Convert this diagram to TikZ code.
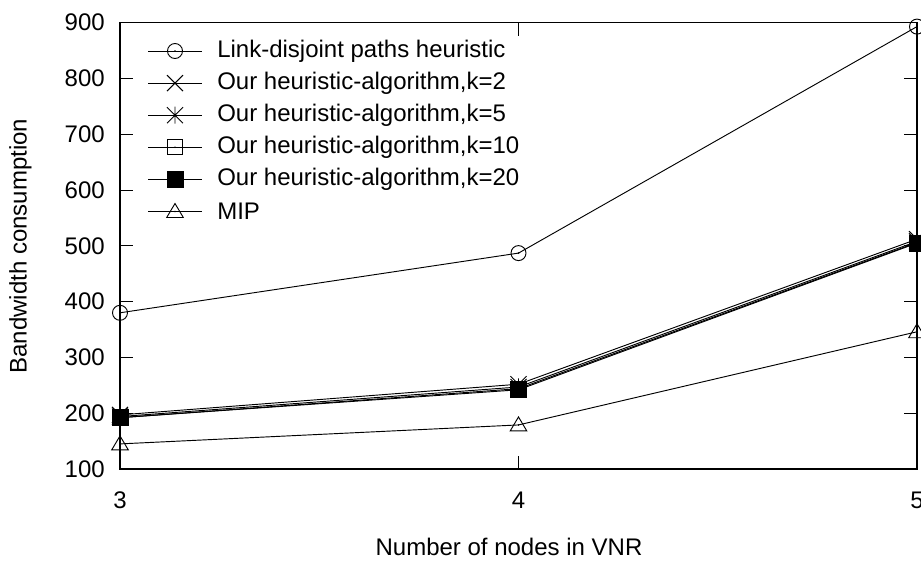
\documentclass[tikz,border=0pt]{standalone}
\usepackage{fontspec}
\setmainfont{Liberation Sans}
\begin{document}
\begin{tikzpicture}[x=0.75pt,y=-0.75pt,
  axis/.style={line width=1pt,black},
  tickmark/.style={line width=0.8pt,black},
  series/.style={line width=0.7pt,black},
  mk/.style={line width=0.7pt,black},
  lbl/.style={font=\fontsize{18}{21}\selectfont,inner sep=0pt},
  mkcirc/.pic={\draw[mk] (0,0) circle (7.5); \fill (0,0) circle (0.9);},
  mkcross/.pic={\draw[mk] (-8,-8)--(8,8) (-8,8)--(8,-8);},
  mkstar/.pic={\draw[mk] (-8,-8)--(8,8) (-8,8)--(8,-8) (0,-8.5)--(0,8.5);},
  mkbox/.pic={\draw[mk] (-7.5,-7.5) rectangle (7.5,7.5); \fill (0,0) circle (0.9);},
  mkfill/.pic={\fill (-8.5,-8.5) rectangle (8.5,8.5);},
  mktri/.pic={\draw[mk] (0,-8)--(8.3,6)--(-8.3,6)--cycle; \fill (0,0) circle (0.9);}
]
\useasboundingbox (0,0) rectangle (921,561);
\fill[white] (0,0) rectangle (921,561);

% plot frame corners
\coordinate (BL) at (120,469);
\coordinate (TR) at (917,22.7);

% data points: x = nodes in VNR (3..5), y = bandwidth (100..900)
\begin{scope}[shift={(120,469)},x=298.875pt,y=0.41841pt]
  \coordinate (a3) at (0,280); \coordinate (a4) at (1,387); \coordinate (a5) at (2,793);
  \coordinate (b3) at (0,97);  \coordinate (b4) at (1,152); \coordinate (b5) at (2,412);
  \coordinate (c3) at (0,94);  \coordinate (c4) at (1,147); \coordinate (c5) at (2,408);
  \coordinate (d3) at (0,92);  \coordinate (d4) at (1,144); \coordinate (d5) at (2,406);
  \coordinate (e3) at (0,92);  \coordinate (e4) at (1,142); \coordinate (e5) at (2,405);
  \coordinate (f3) at (0,45);  \coordinate (f4) at (1,79);  \coordinate (f5) at (2,246);
\end{scope}

% ticks
\foreach \v [count=\i] in {200,300,...,800}{
  \pgfmathsetmacro{\yy}{469-(\v-100)*0.55788}
  \draw[tickmark] (120,\yy) -- (133,\yy);
  \draw[tickmark] (917,\yy) -- (904,\yy);
}
\draw[tickmark] (518.5,469) -- (518.5,456);
\draw[tickmark] (518.5,22.7) -- (518.5,35.5);

% tick labels
\foreach \v in {100,200,...,900}{
  \pgfmathsetmacro{\yy}{469-(\v-100)*0.55788}
  \node[lbl,anchor=east] (yl\v) at (105,\yy) {\v};
}
\node[lbl] (x3) at (120,500) {3};
\node[lbl] (x4) at (518.5,500) {4};
\node[lbl] (x5) at (917,500) {5};

% axis titles
\node[lbl,anchor=base] (xt) at (509,555) {Number of nodes in VNR};
\node[lbl,anchor=base,rotate=90] (yt) at (26.5,246) {Bandwidth consumption};

% series lines
\draw[series] (a3) -- (a4) -- (a5);
\draw[series] (b3) -- (b4) -- (b5);
\draw[series] (c3) -- (c4) -- (c5);
\draw[series] (d3) -- (d4) -- (d5);
\draw[series] (e3) -- (e4) -- (e5);
\draw[series] (f3) -- (f4) -- (f5);

% markers
\foreach \n in {3,4,5}{
  \path (a\n) pic{mkcirc};
  \path (b\n) pic{mkcross};
  \path (c\n) pic{mkstar};
  \path (d\n) pic{mkbox};
  \path (e\n) pic{mkfill};
  \path (f\n) pic{mktri};
}

% frame
\draw[axis] (BL) rectangle (TR);

% legend
\foreach \m/\t [count=\i from 0] in {
  mkcirc/Link-disjoint paths heuristic,
  mkcross/{Our heuristic-algorithm,k=2},
  mkstar/{Our heuristic-algorithm,k=5},
  mkbox/{Our heuristic-algorithm,k=10},
  mkfill/{Our heuristic-algorithm,k=20},
  mktri/MIP}{
  \pgfmathsetmacro{\yy}{51+32.1*\i}
  \coordinate (la\i) at (148,\yy);
  \coordinate (lm\i) at (175,\yy);
  \coordinate (lb\i) at (202,\yy);
  \draw[series] (la\i) -- (lb\i);
  \path (lm\i) pic{\m};
  \node[lbl,anchor=west] (lt\i) at (217,\yy) {\t};
}
\end{tikzpicture}
\end{document}
